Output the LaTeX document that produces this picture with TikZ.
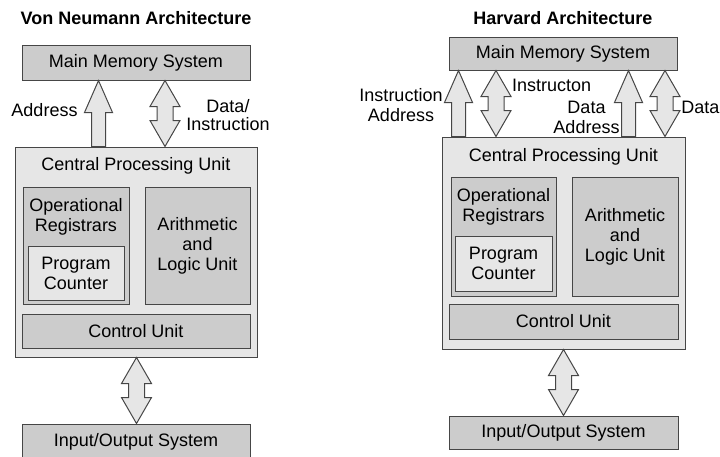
\documentclass[tikz,border=0pt]{standalone}
\usepackage{fontspec}
\setmainfont{Liberation Sans}
\usetikzlibrary{calc}
\definecolor{dk}{RGB}{204,204,204}
\definecolor{lt}{RGB}{230,230,230}
\definecolor{ln}{RGB}{70,70,70}
\tikzset{
 box/.style={draw=ln, line width=1pt, inner sep=0pt, align=center, font=\fontsize{18}{20}\selectfont},
 darkbox/.style={box, fill=dk},
 lightbox/.style={box, fill=lt},
 txt/.style={inner sep=0pt, align=center, font=\fontsize{18}{20}\selectfont},
 ttl/.style={inner sep=0pt, font=\fontsize{18}{20}\selectfont\bfseries},
 blockarrow/.style={draw=ln, line width=1pt, fill=lt, line join=miter},
}
\newcommand\uparr[3]{%
 \path[blockarrow] let \p1=(#2.south), \p2=(#3.north) in
 (#1pt,\y1) -- (#1pt+14pt,\y1-32pt) -- (#1pt+7pt,\y1-32pt) -- (#1pt+7pt,\y2) -- (#1pt-7pt,\y2) -- (#1pt-7pt,\y1-32pt) -- (#1pt-14pt,\y1-32pt) -- cycle;}
\newcommand\dblarr[3]{%
 \path[blockarrow] let \p1=(#2.south), \p2=(#3.north) in
 (#1pt,\y1) -- (#1pt+15pt,\y1-26pt) -- (#1pt+8pt,\y1-26pt) -- (#1pt+8pt,\y2+26pt) -- (#1pt+15pt,\y2+26pt) -- (#1pt,\y2) -- (#1pt-15pt,\y2+26pt) -- (#1pt-8pt,\y2+26pt) -- (#1pt-8pt,\y1-26pt) -- (#1pt-15pt,\y1-26pt) -- cycle;}
\begin{document}
\begin{tikzpicture}[x=1pt,y=1pt]
\useasboundingbox[fill=white] (0,0) rectangle (720,-456);
% ---------------- Von Neumann ----------------
\node[ttl] (t1) at (136,-18) {Von Neumann Architecture};
\node[darkbox, minimum width=228, minimum height=35] (mem1) at (136,-62.5) {Main Memory System};
\node[lightbox, minimum width=242, minimum height=210] (cpu1) at (136,-252) {};
\node[txt] (cpu1t) at (136,-166) {Central Processing Unit};
\node[darkbox, minimum width=106, minimum height=117] (reg1) at (76,-245.5) {};
\node[txt] (reg1t) at (76,-217) {Operational\\Registrars};
\node[lightbox, minimum width=96, minimum height=54] (pc1) at (76,-273) {Program\\Counter};
\node[darkbox, minimum width=105, minimum height=117] (alu1) at (197.5,-245.5) {Arithmetic\\and\\Logic Unit};
\node[darkbox, minimum width=228, minimum height=34] (cu1) at (136,-331) {Control Unit};
\node[darkbox, minimum width=228, minimum height=35] (io1) at (136,-441.5) {Input/Output System};
\uparr{98.5}{mem1}{cpu1}
\dblarr{165}{mem1}{cpu1}
\dblarr{136.5}{cpu1}{io1}
\node[txt] (l1) at (44.5,-110) {Address};
\node[txt, font=\fontsize{18}{18}\selectfont] (l2) at (228,-115) {Data/\\Instruction};
% ---------------- Harvard ----------------
\node[ttl] (t2) at (563,-18) {Harvard Architecture};
\node[darkbox, minimum width=228, minimum height=33] (mem2) at (563,-53.5) {Main Memory System};
\node[lightbox, minimum width=243, minimum height=212] (cpu2) at (563.5,-243) {};
\node[txt] (cpu2t) at (563.5,-157) {Central Processing Unit};
\node[darkbox, minimum width=105, minimum height=119] (reg2) at (503.5,-236.5) {};
\node[txt] (reg2t) at (503.5,-207) {Operational\\Registrars};
\node[lightbox, minimum width=97, minimum height=55] (pc2) at (503.5,-263.5) {Program\\Counter};
\node[darkbox, minimum width=106, minimum height=119] (alu2) at (625,-236.5) {Arithmetic\\and\\Logic Unit};
\node[darkbox, minimum width=229, minimum height=35] (cu2) at (563.5,-321.5) {Control Unit};
\node[darkbox, minimum width=229, minimum height=33] (io2) at (563.5,-432.5) {Input/Output System};
\uparr{458.5}{mem2}{cpu2}
\dblarr{496}{mem2}{cpu2}
\uparr{628.5}{mem2}{cpu2}
\dblarr{665}{mem2}{cpu2}
\dblarr{563.5}{cpu2}{io2}
\node[txt] (l3) at (401,-105) {Instruction\\Address};
\node[txt, anchor=west] (l4) at (512,-85) {Instructon};
\node[txt] (l5) at (586.5,-117) {Data\\Address};
\node[txt, anchor=east] (l6) at (719.5,-107) {Data};
\end{tikzpicture}
\end{document}
